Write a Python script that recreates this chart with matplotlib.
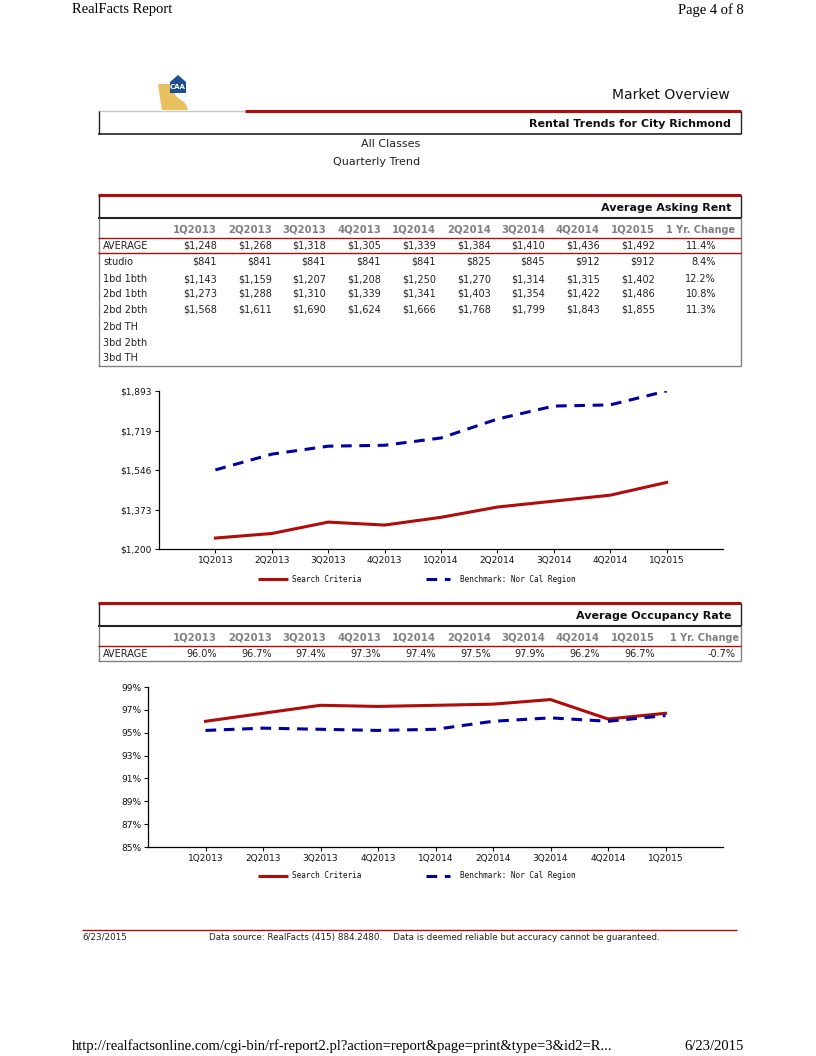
import matplotlib
matplotlib.use("Agg")
import matplotlib.pyplot as plt
from matplotlib.patches import Polygon

# ---- data ----
quarters = ["1Q2013", "2Q2013", "3Q2013", "4Q2013", "1Q2014",
            "2Q2014", "3Q2014", "4Q2014", "1Q2015"]

rent_labels = ["AVERAGE", "studio", "1bd 1bth", "2bd 1bth", "2bd 2bth",
               "2bd TH", "3bd 2bth", "3bd TH"]
rent_average = [1248, 1268, 1318, 1305, 1339, 1384, 1410, 1436, 1492]
rent_studio = [841, 841, 841, 841, 841, 825, 845, 912, 912]
rent_1bd1bth = [1143, 1159, 1207, 1208, 1250, 1270, 1314, 1315, 1402]
rent_2bd1bth = [1273, 1288, 1310, 1339, 1341, 1403, 1354, 1422, 1486]
rent_2bd2bth = [1568, 1611, 1690, 1624, 1666, 1768, 1799, 1843, 1855]
rent_change = ["11.4%", "8.4%", "12.2%", "10.8%", "11.3%", "", "", ""]
rent_benchmark = [1547, 1616, 1651, 1655, 1687, 1770, 1827, 1832, 1893]
rent_ticks = [1200, 1373, 1546, 1719, 1893]

occ_average = [96.0, 96.7, 97.4, 97.3, 97.4, 97.5, 97.9, 96.2, 96.7]
occ_change = "-0.7%"
occ_benchmark = [95.2, 95.4, 95.3, 95.2, 95.3, 96.0, 96.3, 96.0, 96.5]
occ_ticks = [85, 87, 89, 91, 93, 95, 97, 99]

RED = "#b00c0c"
BLUE = "#0000a0"
GRAY = "#808080"
TXT = "#222222"
W, H = 816, 1056


def main():
    fig = plt.figure(figsize=(W / 100, H / 100), dpi=100)
    fig.patch.set_facecolor("white")

    # page overlay in pixel coordinates
    pg = fig.add_axes([0, 0, 1, 1])
    pg.set_xlim(0, W)
    pg.set_ylim(H, 0)
    pg.axis("off")

    def hline(y, x0, x1, color, lw):
        pg.plot([x0, x1], [y, y], color=color, lw=lw, solid_capstyle="butt")

    def vline(x, y0, y1, color, lw):
        pg.plot([x, x], [y0, y1], color=color, lw=lw, solid_capstyle="butt")

    serif = "Liberation Serif"
    pg.text(72, 10, "RealFacts Report", family=serif, fontsize=10.5, va="center")
    pg.text(744, 10, "Page 4 of 8", family=serif, fontsize=10.5, va="center", ha="right")
    pg.text(72, 1046, "http://realfactsonline.com/cgi-bin/rf-report2.pl?action=report&page=print&type=3&id2=R...",
            family=serif, fontsize=10.5, va="center")
    pg.text(744, 1046, "6/23/2015", family=serif, fontsize=10.5, va="center", ha="right")

    # logo (rough)
    pg.add_patch(Polygon([[158, 84], [170, 84], [176, 96], [186, 104], [188, 110], [162, 110], [160, 98]],
                         closed=True, color="#e8c060", lw=0))
    pg.add_patch(Polygon([[170, 93], [170, 82], [178, 75], [186, 82], [186, 93]],
                         closed=True, color="#1d4f8c", lw=0))
    pg.text(178, 87, "CAA", color="white", fontsize=5, fontweight="bold", ha="center", va="center")

    # title block
    pg.text(730, 95, "Market Overview", fontsize=10, ha="right", va="center", color="#111")
    hline(111, 98, 245, "#c8c8c8", 1)
    hline(111, 245, 741, RED, 2.2)
    vline(98.5, 111, 134, "#222", 1)
    vline(740.5, 111, 134, "#222", 1)
    hline(133.5, 98, 741, "#222", 1.2)
    pg.text(731, 124, "Rental Trends for City Richmond", fontsize=8, fontweight="bold",
            ha="right", va="center", color="#111")
    pg.text(420, 144, "All Classes", fontsize=8, ha="right", va="center", color=TXT)
    pg.text(420, 162, "Quarterly Trend", fontsize=8, ha="right", va="center", color=TXT)

    col_x = [217, 272, 326, 381, 436, 491, 545, 600, 655]

    def table_head(top, title, bottom, change_x):
        hline(top, 98, 741, RED, 2.2)
        vline(98.5, top, top + 23, "#222", 1)
        vline(740.5, top, top + 23, "#222", 1)
        hline(top + 23, 98, 741, "#222", 1.5)
        vline(98.5, top + 23, bottom, GRAY, 1)
        vline(740.5, top + 23, bottom, GRAY, 1)
        hline(bottom, 98, 741, GRAY, 1)
        pg.text(731, top + 13, title, fontsize=8, fontweight="bold", ha="right", va="center", color="#111")
        for x, q in zip(col_x, quarters):
            pg.text(x, top + 35, q, fontsize=7.3, fontweight="bold", ha="right", va="center", color=GRAY)
        pg.text(change_x, top + 35, "1 Yr. Change", fontsize=7, fontweight="bold",
                ha="right", va="center", color=GRAY)
        hline(top + 43, 98, 741, RED, 1)

    # ---- table 1 ----
    table_head(195, "Average Asking Rent", 366, 735)
    hline(253, 98, 741, RED, 1)
    rent_rows = [rent_average, rent_studio, rent_1bd1bth, rent_2bd1bth, rent_2bd2bth, [], [], []]
    row_y = [246, 262, 279, 294, 310, 327, 343, 358]
    for y, lab, vals, chg in zip(row_y, rent_labels, rent_rows, rent_change):
        pg.text(103, y, lab, fontsize=7, ha="left", va="center", color=TXT)
        for x, v in zip(col_x, vals):
            pg.text(x, y, f"${v:,}", fontsize=7, ha="right", va="center", color=TXT)
        if chg:
            pg.text(716, y, chg, fontsize=7, ha="right", va="center", color=TXT)

    # ---- table 2 ----
    table_head(603, "Average Occupancy Rate", 661, 739)
    pg.text(103, 654, "AVERAGE", fontsize=7, ha="left", va="center", color=TXT)
    for x, v in zip(col_x, occ_average):
        pg.text(x, 654, f"{v:.1f}%", fontsize=7, ha="right", va="center", color=TXT)
    pg.text(736, 654, occ_change, fontsize=7, ha="right", va="center", color=TXT)

    # ---- charts ----
    def chart(left, top, bottom, search, bench, ticks, fmt, legend_y):
        ax = fig.add_axes([left / W, 1 - bottom / H, (723 - left) / W, (bottom - top) / H])
        x = list(range(len(quarters)))
        ax.plot(x, search, color=RED, lw=2.2, solid_joinstyle="round")
        ax.plot(x, bench, color=BLUE, lw=2.2, dashes=(3.5, 2.5))
        ax.set_xlim(-1, 9)
        ax.set_ylim(ticks[0], ticks[-1])
        ax.set_xticks(x)
        ax.set_xticklabels(quarters)
        ax.set_yticks(ticks)
        ax.set_yticklabels([fmt(t) for t in ticks])
        for s in ("top", "right"):
            ax.spines[s].set_visible(False)
        for s in ("left", "bottom"):
            ax.spines[s].set_linewidth(0.9)
        ax.tick_params(labelsize=6.5, length=3, width=0.8, pad=2, colors="#111")
        ax.set_facecolor("none")
        # legend
        pg.plot([258, 288], [legend_y, legend_y], color=RED, lw=2.2, solid_capstyle="butt")
        pg.text(292, legend_y, "Search Criteria", family="DejaVu Sans Mono", fontsize=5.6,
                va="center", color="#111")
        pg.plot([426, 450], [legend_y, legend_y], color=BLUE, lw=2.2, dashes=(3.5, 2.5))
        pg.text(460, legend_y, "Benchmark: Nor Cal Region", family="DejaVu Sans Mono", fontsize=5.6,
                va="center", color="#111")
        return ax

    chart(159, 391, 549, rent_average, rent_benchmark, rent_ticks, lambda t: f"${t:,}", 579)
    chart(148, 687, 847, occ_average, occ_benchmark, occ_ticks, lambda t: f"{t}%", 876)

    # footer
    hline(930, 82, 737, RED, 1)
    pg.text(82, 937, "6/23/2015", fontsize=6.3, va="center", color=TXT)
    pg.text(209, 937, "Data source: RealFacts (415) 884.2480.    Data is deemed reliable but accuracy cannot be guaranteed.",
            fontsize=6.3, va="center", color=TXT)

    fig.savefig("out.png", dpi=100)


if __name__ == "__main__":
    main()
